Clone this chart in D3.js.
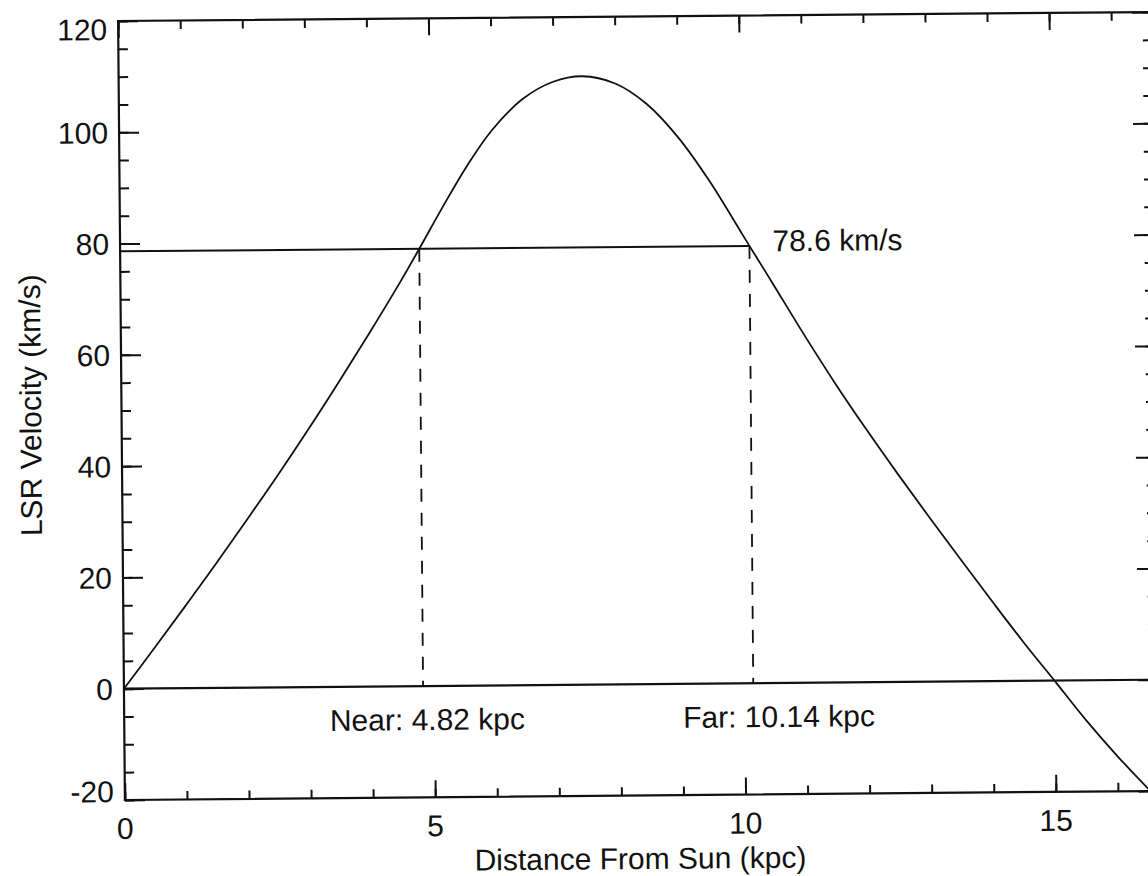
<!DOCTYPE html>
<html>
<head>
<meta charset="utf-8">
<script src="https://cdn.jsdelivr.net/npm/d3@7"></script>
<style>
  html, body { margin: 0; padding: 0; background: #fff; }
  svg { display: block; }
  text { font-family: "Liberation Sans", Arial, Helvetica, sans-serif; fill: #111; }
</style>
</head>
<body>
<svg id="chart" width="1148" height="876"></svg>
<script>
// ---- data ----
const distanceKpc = [0, 0.5, 1.0, 1.5, 2.0, 2.5, 3.0, 3.5, 4.0, 4.5, 4.82, 5.2, 5.6, 6.0, 6.5, 7.0, 7.47, 8.0, 8.5, 9.0, 9.5, 10.0, 10.14, 10.5, 11.0, 11.5, 12.0, 12.5, 13.0, 13.5, 14.0, 14.5, 15.0, 15.5, 16.0, 16.5, 16.66];
const velocityKms = [0, 7.3, 14.75, 22.3, 30.1, 38.0, 46.2, 54.7, 63.45, 72.5, 78.6, 86.0, 93.4, 99.7, 105.3, 108.4, 109.35, 108.0, 104.3, 98.3, 90.4, 81.2, 78.6, 72.0, 62.7, 53.8, 45.4, 37.35, 29.55, 21.9, 14.35, 6.95, -0.1, -7.2, -13.7, -19.7, -21.5];
const targetVelocity = 78.6;
const nearDistance = 4.82;
const farDistance = 10.14;
const xMajorTicks = [0, 5, 10, 15];
const xMinorTicks = d3.range(0, 17, 1);
const yMajorTicks = [-20, 0, 20, 40, 60, 80, 100, 120];
const yMinorTicks = d3.range(-20, 121, 5);
const xDomain = [0, 16.66];
const yDomain = [-20, 120];
const labels = {
  x: "Distance From Sun (kpc)",
  y: "LSR Velocity (km/s)",
  vel: "78.6 km/s",
  near: "Near: 4.82 kpc",
  far: "Far: 10.14 kpc"
};

// ---- layout ----
const pLeft = 121.5, pRight = 1155.5, pTop = 16.5, pBottom = 795.5;
const svg = d3.select("#chart");
const g = svg.append("g").attr("transform", "rotate(-0.5, 638, 407)");

const x = d3.scaleLinear().domain(xDomain).range([pLeft, pRight]);
const y = d3.scaleLinear().domain(yDomain).range([pBottom, pTop]);

svg.append("defs").append("clipPath").attr("id", "plotClip")
  .append("rect").attr("x", pLeft).attr("y", pTop).attr("width", pRight - pLeft).attr("height", pBottom - pTop);

const fontSize = 30;
const ink = "#111";

function styleAxis(sel) {
  sel.select(".domain").remove();
  sel.selectAll(".tick line").attr("stroke", ink).attr("stroke-width", 2);
  sel.selectAll(".tick text").remove();
}
// bottom
g.append("g").attr("transform", `translate(0,${pBottom})`)
  .call(d3.axisTop(x).tickValues(xMinorTicks).tickSize(8.5)).call(styleAxis);
g.append("g").attr("transform", `translate(0,${pBottom})`)
  .call(d3.axisTop(x).tickValues(xMajorTicks).tickSize(17)).call(styleAxis);
// top
g.append("g").attr("transform", `translate(0,${pTop})`)
  .call(d3.axisBottom(x).tickValues(xMinorTicks).tickSize(8.5)).call(styleAxis);
g.append("g").attr("transform", `translate(0,${pTop})`)
  .call(d3.axisBottom(x).tickValues(xMajorTicks).tickSize(17)).call(styleAxis);
// left
g.append("g").attr("transform", `translate(${pLeft},0)`)
  .call(d3.axisRight(y).tickValues(yMinorTicks).tickSize(9.5)).call(styleAxis);
g.append("g").attr("transform", `translate(${pLeft},0)`)
  .call(d3.axisRight(y).tickValues(yMajorTicks).tickSize(20)).call(styleAxis);
// right
g.append("g").attr("transform", `translate(${pRight},0)`)
  .call(d3.axisLeft(y).tickValues(yMinorTicks).tickSize(9.5)).call(styleAxis);
g.append("g").attr("transform", `translate(${pRight},0)`)
  .call(d3.axisLeft(y).tickValues(yMajorTicks).tickSize(20)).call(styleAxis);

// frame
g.append("rect").attr("x", pLeft).attr("y", pTop).attr("width", pRight - pLeft).attr("height", pBottom - pTop)
  .attr("fill", "none").attr("stroke", ink).attr("stroke-width", 2.2);

// tick labels
g.selectAll(".xlab").data(xMajorTicks).join("text")
  .attr("x", d => x(d)).attr("y", pBottom + 39)
  .attr("text-anchor", "middle").attr("font-size", fontSize).text(d => d);
g.selectAll(".ylab").data(yMajorTicks).join("text")
  .attr("x", pLeft - 11)
  .attr("y", d => y(d) + (d === yDomain[1] ? 19 : d === yDomain[0] ? 2 : 11))
  .attr("text-anchor", "end").attr("font-size", fontSize).text(d => d);

// axis titles
g.append("text").attr("x", (pLeft + pRight) / 2 - 2).attr("y", 869)
  .attr("text-anchor", "middle").attr("font-size", fontSize).text(labels.x);
g.append("text").attr("transform", `translate(41,400) rotate(-90)`)
  .attr("text-anchor", "middle").attr("font-size", fontSize).text(labels.y);

const plot = g.append("g").attr("clip-path", "url(#plotClip)");

// zero line
plot.append("line").attr("x1", x(xDomain[0])).attr("x2", x(xDomain[1]))
  .attr("y1", y(0)).attr("y2", y(0)).attr("stroke", ink).attr("stroke-width", 2.2);
// velocity line
plot.append("line").attr("x1", x(0)).attr("x2", x(farDistance))
  .attr("y1", y(targetVelocity)).attr("y2", y(targetVelocity)).attr("stroke", ink).attr("stroke-width", 2);
// dashed verticals
[nearDistance, farDistance].forEach(d => {
  plot.append("line").attr("x1", x(d)).attr("x2", x(d))
    .attr("y1", y(targetVelocity)).attr("y2", y(0))
    .attr("stroke", ink).attr("stroke-width", 1.8).attr("stroke-dasharray", "13,11");
});

// rotation curve
const pts = distanceKpc.map((d, i) => [d, velocityKms[i]]);
plot.append("path").datum(pts)
  .attr("fill", "none").attr("stroke", ink).attr("stroke-width", 1.8)
  .attr("d", d3.line().x(d => x(d[0])).y(d => y(d[1])).curve(d3.curveCatmullRom));

// annotations
g.append("text").attr("x", x(farDistance) + 23).attr("y", y(targetVelocity) + 5.5)
  .attr("font-size", fontSize).text(labels.vel);
g.append("text").attr("x", x(nearDistance) - 93.5).attr("y", y(0) + 44)
  .attr("font-size", fontSize).text(labels.near);
g.append("text").attr("x", x(farDistance) - 70.5).attr("y", y(0) + 44)
  .attr("font-size", fontSize).text(labels.far);
</script>
</body>
</html>
